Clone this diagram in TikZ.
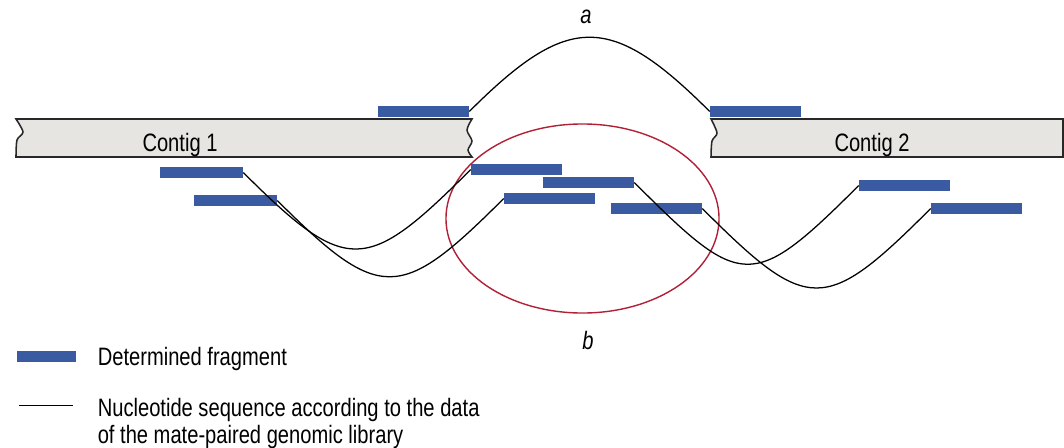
\documentclass[tikz,border=0pt]{standalone}
\usepackage{fontspec}
\setmainfont[FakeStretch=0.8]{Liberation Sans}
\usepackage{tikz}
\usetikzlibrary{positioning}
\definecolor{fragcolor}{RGB}{58,91,161}
\definecolor{contigfill}{RGB}{230,229,225}
\definecolor{contigline}{RGB}{40,40,40}
\definecolor{regioncolor}{RGB}{178,32,56}

\begin{document}
\begin{tikzpicture}[
    x=0.025cm, y=-0.025cm,
    every node/.style={font=\fontsize{17.9}{19.2}\selectfont},
    frag/.style={fill=fragcolor, inner sep=0pt, minimum width=2.275cm, minimum height=0.275cm},
    shortfrag/.style={frag, minimum width=2.075cm},
    contig/.style={fill=contigfill, draw=contigline, line width=1.1pt},
    seq/.style={line width=0.9pt, black},
    gaplabel/.style={font=\fontsize{17.9}{19.2}\selectfont\itshape, anchor=base},
]
    \useasboundingbox (0,0) rectangle (1064,447);

    % Contigs
    \draw[contig] (16,119) -- (472,119)
        -- plot[smooth] coordinates {(472,119) (467,130) (472,141) (468,150) (472,157)}
        -- (16,157)
        -- plot[smooth] coordinates {(16,157) (17,140) (23,132) (16,119)} -- cycle;
    \draw[contig] (711,119) -- (1063,119) -- (1063,157) -- (711,157)
        -- plot[smooth] coordinates {(711,157) (712,141) (717,133) (711,119)} -- cycle;
    \node[anchor=base] (contig1) at (180,151) {Contig 1};
    \node[anchor=base] (contig2) at (872,151) {Contig 2};

    % Region b
    \draw[regioncolor, line width=1pt] (582.5,218.5) ellipse [x radius=3.4125cm, y radius=2.3625cm];

    % Fragments
    \node[frag] (topleft) at (423.5,111.5) {};
    \node[frag] (topright) at (755.5,111.5) {};
    \node[shortfrag] (left1) at (201.5,172.5) {};
    \node[shortfrag] (left2) at (235.5,200.5) {};
    \node[frag] (mid1) at (516.5,169.5) {};
    \node[frag] (mid2) at (588.5,182.5) {};
    \node[frag] (mid3) at (549.5,198.5) {};
    \node[frag] (mid4) at (656.5,208.5) {};
    \node[frag] (right1) at (904.5,185.5) {};
    \node[frag] (right2) at (976.5,208.5) {};

    % Mate pairs
    \draw[seq] (topleft.east) .. controls +(99,-99) and +(-99,-99) .. (topright.west);
    \draw[seq] (left1.east) .. controls +(104,104) and +(-104,104) .. (mid1.west);
    \draw[seq] (left2.east) .. controls +(103,103) and +(-103,103) .. (mid3.west);
    \draw[seq] (mid2.east) .. controls +(107,107) and +(-107,107) .. (right1.west);
    \draw[seq] (mid4.east) .. controls +(106,106) and +(-106,106) .. (right2.west);

    \node[gaplabel] (gapa) at (586,23) {a};
    \node[gaplabel] (gapb) at (588,349) {b};

    % Legend
    \node[frag, minimum width=1.475cm] (keyfrag) at (46.5,356.5) {};
    \node[anchor=base west, inner sep=0pt] (keyfragtext) at (97.5,365) {Determined fragment};
    \coordinate (keyseqstart) at (19,405);
    \coordinate (keyseqend) at (73,405);
    \draw[seq, line width=0.7pt] (keyseqstart) -- (keyseqend);
    \node[anchor=north west, inner sep=0pt, align=left] (keyseqtext) at (97.5,397.5)
        {Nucleotide sequence according to the data\\of the mate-paired genomic library};
\end{tikzpicture}
\end{document}
